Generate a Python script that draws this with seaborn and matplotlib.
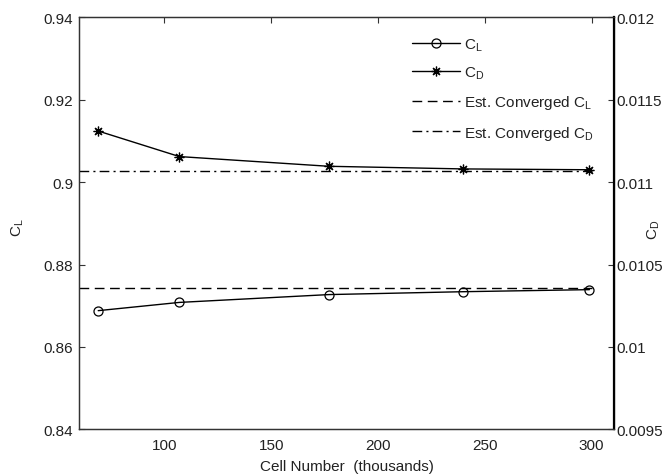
import matplotlib
matplotlib.use("Agg")
import matplotlib.pyplot as plt
from matplotlib.lines import Line2D
import seaborn as sns
import pandas as pd

# Mesh-convergence study: lift and drag coefficients vs. cell count
cells = [69, 107, 177, 240, 299]                      # thousands of cells
cl = [0.8688, 0.8708, 0.8727, 0.8734, 0.8739]         # lift coefficient
cd = [0.01131, 0.011155, 0.011096, 0.01108, 0.011075]  # drag coefficient
cl_conv = 0.8742                                      # estimated converged C_L
cd_conv = 0.011065                                    # estimated converged C_D
conv_span = [60, 300]                                 # x-extent of the converged lines

cl_ticks = [0.84, 0.86, 0.88, 0.90, 0.92, 0.94]
cl_tick_labels = ["0.84", "0.86", "0.88", "0.9", "0.92", "0.94"]
cd_ticks = [0.0095, 0.010, 0.0105, 0.011, 0.0115, 0.012]
cd_tick_labels = ["0.0095", "0.01", "0.0105", "0.011", "0.0115", "0.012"]
x_ticks = [100, 150, 200, 250, 300]

sns.set_theme(style="white")
fam = "Liberation Sans"
plt.rcParams["font.family"] = [fam, "DejaVu Sans"]
plt.rcParams["mathtext.fontset"] = "custom"
plt.rcParams["mathtext.rm"] = fam
plt.rcParams["mathtext.it"] = fam
plt.rcParams["mathtext.bf"] = fam

FS = 11
text_col = "#222222"
edge_col = "#333333"

fig = plt.figure(figsize=(6.7, 4.77), dpi=100)
ax = fig.add_axes([0.1179, 0.0979, 0.7985, 0.8637])
ax2 = ax.twinx()

df = pd.DataFrame({"cells": cells, "cl": cl, "cd": cd})
conv = pd.DataFrame({"x": conv_span, "cl": [cl_conv] * 2, "cd": [cd_conv] * 2})

star = (8, 2, 0)
sns.lineplot(data=df, x="cells", y="cl", ax=ax, color="black", lw=1,
             marker="o", markersize=6.5, markerfacecolor="none",
             markeredgecolor="black", markeredgewidth=0.9, legend=False)
sns.lineplot(data=conv, x="x", y="cl", ax=ax, color="black", lw=1,
             legend=False)
ax.lines[-1].set_dashes((7, 4))

sns.lineplot(data=df, x="cells", y="cd", ax=ax2, color="black", lw=1,
             marker=star, markersize=7, markeredgecolor="black",
             markeredgewidth=0.9, legend=False)
sns.lineplot(data=conv, x="x", y="cd", ax=ax2, color="black", lw=1,
             legend=False)
ax2.lines[-1].set_dashes((7, 3, 1.5, 3))

ax.set_xlim(60, 310.5)
ax.set_ylim(0.84, 0.94)
ax2.set_ylim(0.0095, 0.012)

ax.set_xticks(x_ticks)
ax.set_xticklabels([str(t) for t in x_ticks])
ax.set_yticks(cl_ticks)
ax.set_yticklabels(cl_tick_labels)
ax2.set_yticks(cd_ticks)
ax2.set_yticklabels(cd_tick_labels)

ax.tick_params(axis="both", direction="in", length=4, width=0.8, colors=edge_col,
               labelcolor=text_col, labelsize=FS, top=True, right=False, pad=6)
ax.tick_params(axis="y", pad=4)
ax2.tick_params(axis="y", direction="in", length=4, width=0.8, colors=edge_col,
                labelcolor=text_col, labelsize=FS, pad=2)

for a in (ax, ax2):
    for s in a.spines.values():
        s.set_color(edge_col)
        s.set_linewidth(0.9)
ax2.spines["right"].set_color("black")
ax2.spines["right"].set_linewidth(1.6)

ax.set_xlabel("Cell Number  (thousands)", color=text_col, fontsize=FS, va="center")
ax.xaxis.set_label_coords(0.5, -0.09)
ax.set_ylabel(r"$\mathrm{C_L}$", color=text_col, fontsize=FS, va="center")
ax.yaxis.set_label_coords(-0.114, 0.493)
ax2.set_ylabel(r"$\mathrm{C_D}$", color=text_col, fontsize=FS, rotation=90,
               va="center")
ax2.yaxis.set_label_coords(1.075, 0.486)

handles = [
    Line2D([], [], color="black", lw=1, marker="o", markersize=6.5,
           markerfacecolor="none", markeredgecolor="black", markeredgewidth=0.9),
    Line2D([], [], color="black", lw=1, marker=star, markersize=7,
           markeredgewidth=0.9),
    Line2D([], [], color="black", lw=1, dashes=(7, 4)),
    Line2D([], [], color="black", lw=1, dashes=(7, 3, 1.5, 3)),
]
labels = [r"$\mathrm{C_L}$", r"$\mathrm{C_D}$",
          r"Est. Converged $\mathrm{C_L}$", r"Est. Converged $\mathrm{C_D}$"]
leg = ax2.legend(handles, labels, loc="upper left", bbox_to_anchor=(0.6145, 0.922),
                 bbox_transform=fig.transFigure, frameon=False, handlelength=3.15,
                 handletextpad=0.3, labelspacing=0.8, borderaxespad=0, borderpad=0,
                 fontsize=FS)
for t in leg.get_texts():
    t.set_color(text_col)

fig.savefig("out.png", dpi=100)
